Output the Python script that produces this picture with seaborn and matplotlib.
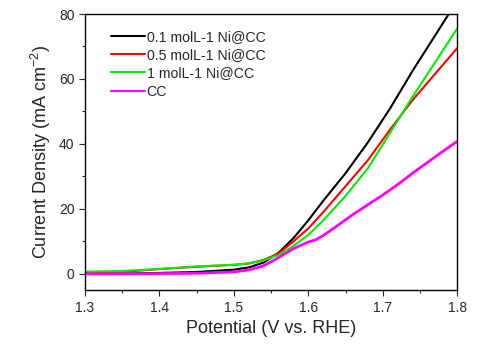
import numpy as np
import pandas as pd
import matplotlib
matplotlib.use("Agg")
import matplotlib.pyplot as plt
import seaborn as sns
from matplotlib.ticker import MultipleLocator

# 讀圖估計的 LSV 數據
v_01 = [1.30, 1.35, 1.40, 1.45, 1.50, 1.52, 1.54, 1.56, 1.58, 1.60, 1.62, 1.65, 1.68, 1.71, 1.74, 1.77, 1.79]
i_01 = [0.0, 0.1, 0.3, 0.6, 1.3, 2.0, 3.5, 6.5, 11.0, 16.5, 22.5, 31.0, 40.5, 51.0, 62.5, 73.3, 80.5]

v_05 = [1.30, 1.35, 1.40, 1.45, 1.50, 1.52, 1.54, 1.56, 1.58, 1.60, 1.62, 1.65, 1.68, 1.71, 1.74, 1.77, 1.80]
i_05 = [0.3, 0.6, 1.5, 2.2, 2.8, 3.2, 4.3, 6.3, 10.0, 14.0, 19.0, 27.0, 35.0, 44.5, 53.5, 61.5, 69.5]

v_1 = [1.30, 1.35, 1.40, 1.45, 1.50, 1.52, 1.54, 1.56, 1.58, 1.60, 1.62, 1.65, 1.68, 1.71, 1.74, 1.77, 1.80]
i_1 = [0.7, 0.9, 1.5, 2.3, 2.8, 3.2, 4.2, 5.8, 8.6, 12.0, 16.5, 24.0, 32.5, 43.5, 54.5, 65.0, 75.6]

v_cc = [1.30, 1.35, 1.40, 1.45, 1.50, 1.52, 1.54, 1.56, 1.58, 1.60, 1.61, 1.62, 1.64, 1.66, 1.68,
        1.70, 1.72, 1.74, 1.76, 1.78, 1.80]
i_cc = [0.0, 0.0, 0.1, 0.2, 0.6, 1.2, 2.5, 5.0, 7.8, 9.8, 10.5, 11.8, 15.0, 18.3, 21.3,
        24.3, 27.5, 31.0, 34.3, 37.6, 40.8]

labels = ["0.1 molL-1 Ni@CC", "0.5 molL-1 Ni@CC", "1 molL-1 Ni@CC", "CC"]
colors = ["black", "red", "#00ee00", "magenta"]

frames = []
for lab, v, i in zip(labels, [v_01, v_05, v_1, v_cc], [i_01, i_05, i_1, i_cc]):
    frames.append(pd.DataFrame({"V": v, "I": i, "sample": lab}))
df = pd.concat(frames, ignore_index=True)

sns.set_style("ticks")
plt.rcParams['font.family'] = ['Liberation Sans', 'DejaVu Sans']

fig = plt.figure(figsize=(4.97, 3.5), dpi=100)
ax = fig.add_axes([0.171, 0.171, 0.749, 0.789])

sns.lineplot(data=df, x="V", y="I", hue="sample", palette=dict(zip(labels, colors)),
             sort=False, estimator=None, linewidth=1.5, ax=ax)
for line in ax.lines:
    if line.get_color() == "magenta":
        line.set_linewidth(2)

ax.set_xlim(1.3, 1.8)
ax.set_ylim(-5, 80)
ax.xaxis.set_major_locator(MultipleLocator(0.1))
ax.xaxis.set_minor_locator(MultipleLocator(0.05))
ax.yaxis.set_major_locator(MultipleLocator(20))
ax.yaxis.set_minor_locator(MultipleLocator(10))
ax.tick_params(which="major", direction="out", length=4, width=0.8, labelsize=10, top=False, right=False)
ax.tick_params(which="minor", direction="out", length=2.5, width=0.8, top=False, right=False)
for s in ax.spines.values():
    s.set_visible(True)
    s.set_linewidth(1)
    s.set_color("black")

ax.set_xlabel("Potential (V vs. RHE)", fontsize=13)
ax.set_ylabel("Current Density (mA cm$^{\\mathregular{-2}}$)", fontsize=13)

leg = ax.legend(loc="upper left", frameon=False, fontsize=10.2, handlelength=2.4,
                handletextpad=0.1, labelspacing=0.3, borderaxespad=0.0,
                bbox_to_anchor=(0.055, 0.963))
for h in leg.get_lines():
    h.set_linewidth(1.5)

fig.savefig("out.png", dpi=100)
